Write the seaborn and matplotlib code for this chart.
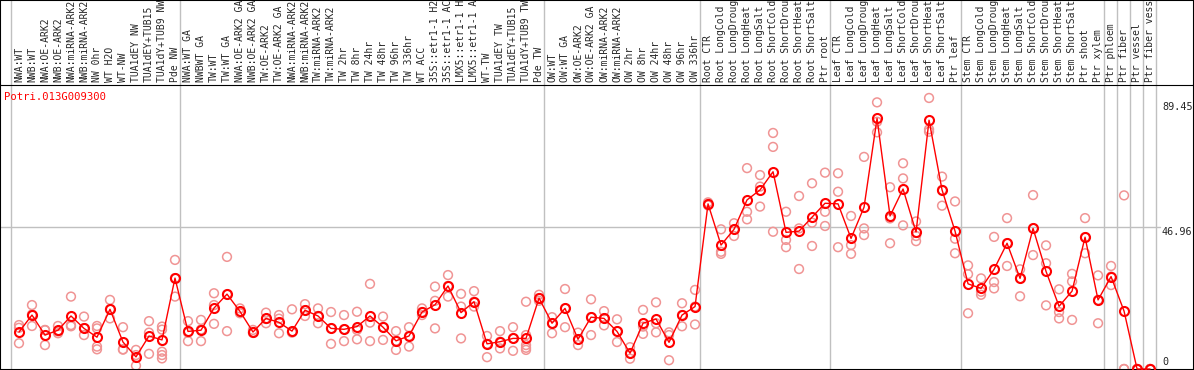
import numpy as np
import pandas as pd
import matplotlib
matplotlib.use('Agg')
import matplotlib.pyplot as plt
import seaborn as sns

gene = 'Potri.013G009300'

# sample names as printed (the header only has room for 14 characters)
labels = ['NWA:WT', 'NWB:WT', 'NWA:OE-ARK2', 'NWB:OE-ARK2', 'NWA:miRNA-ARK2', 'NWB:miRNA-ARK2',
          'NW 0hr', 'WT H2O', 'WT-NW', 'TUA1dEY NW', 'TUA1dEY+TUB15', 'TUA1dY+TUB9 NW', 'Pde NW',
          'NWA:WT GA', 'NWBWT GA', 'TW:WT', 'TW:WT GA', 'NWA:OE-ARK2 GA', 'NWB:OE-ARK2 GA',
          'TW:OE-ARK2', 'TW:OE-ARK2 GA', 'NWA:miRNA-ARK2', 'NWB:miRNA-ARK2', 'TW:miRNA-ARK2',
          'TW:miRNA-ARK2', 'TW 2hr', 'TW 8hr', 'TW 24hr', 'TW 48hr', 'TW 96hr', 'TW 336hr', 'WT ACC',
          '35S::etr1-1 H2', '35S::etr1-1 AC', 'LMX5::etr1-1 H', 'LMX5::etr1-1 A', 'WT-TW',
          'TUA1dEY TW', 'TUA1dEY+TUB15', 'TUA1dY+TUB9 TW', 'Pde TW',
          'OW:WT', 'OW:WT GA', 'OW:OE-ARK2', 'OW:OE-ARK2 GA', 'OW:miRNA-ARK2', 'OW:miRNA-ARK2',
          'OW 2hr', 'OW 8hr', 'OW 24hr', 'OW 48hr', 'OW 96hr', 'OW 336hr',
          'Root CTR', 'Root LongCold', 'Root LongDroug', 'Root LongHeat', 'Root LongSalt',
          'Root ShortCold', 'Root ShortDrou', 'Root ShortHeat', 'Root ShortSalt', 'Ptr root',
          'Leaf CTR', 'Leaf LongCold', 'Leaf LongDroug', 'Leaf LongHeat', 'Leaf LongSalt',
          'Leaf ShortCold', 'Leaf ShortDrou', 'Leaf ShortHeat', 'Leaf ShortSalt', 'Ptr leaf',
          'Stem CTR', 'Stem LongCold', 'Stem LongDroug', 'Stem LongHeat', 'Stem LongSalt',
          'Stem ShortCold', 'Stem ShortDrou', 'Stem ShortHeat', 'Stem ShortSalt', 'Ptr shoot',
          'Ptr xylem', 'Ptr phloem', 'Ptr fiber', 'Ptr vessel', 'Ptr fiber vess']

# number of samples in each block separated by a vertical line
group_sizes = [13, 28, 12, 10, 10, 11, 1, 1, 1, 1]

means = [12.2, 17.8, 11.2, 12.8, 17.5, 13.4, 10.5, 19.7, 8.9, 4.0, 10.9, 9.6, 30.0,
         12.4, 12.8, 20.1, 24.7, 19.0, 12.2, 16.7, 15.4, 12.5, 19.4, 17.5, 13.4, 13.1, 14.0,
         17.5, 13.8, 9.3, 10.9, 18.8, 21.2, 27.4, 18.6, 22.2, 8.3, 9.0, 10.1, 10.1, 23.4,
         15.1, 20.0, 9.8, 17.1, 16.7, 12.4, 5.2, 15.1, 16.5, 8.8, 17.8, 20.6,
         54.5, 40.9, 46.1, 55.8, 59.1, 65.1, 45.1, 45.5, 50.1, 54.7,
         54.5, 43.1, 53.4, 82.7, 50.5, 59.4, 45.2, 82.1, 59.1, 45.5,
         28.1, 26.6, 32.9, 41.5, 29.9, 46.4, 32.2, 20.7, 25.7, 43.5,
         22.8, 30.5, 19.1, 0.0, 0.0]

replicates = [[14.5, 13.6, 8.5], [21.1, 18.0, 14.2], [12.9, 12.8, 7.9], [14.2, 11.8, 12.4],
              [23.9, 14.5, 14.1], [17.3, 13.5, 11.2], [14.2, 13.4, 7.4, 6.5], [22.8, 19.7, 16.7],
              [13.8, 6.5, 6.4], [6.3, 4.6, 1.1], [15.8, 12.0, 5.0], [14.0, 13.0, 5.7, 4.6, 3.5],
              [36.0, 30.0, 23.9],
              [15.8, 12.0, 9.2], [16.2, 13.0, 9.2], [25.0, 21.1, 14.9], [37.0, 24.6, 12.5],
              [20.0, 18.7, 18.4], [12.9, 12.2, 11.9], [18.6, 16.5, 15.1], [17.8, 16.6, 11.8],
              [19.7, 12.3, 12.0], [21.4, 19.4, 17.5], [20.0, 17.5, 15.1], [18.8, 13.4, 8.3],
              [17.8, 13.1, 9.2], [18.9, 12.9, 9.8], [28.1, 15.3, 9.2], [17.3, 13.8, 9.6],
              [12.5, 9.3, 6.3], [13.8, 10.9, 7.4], [20.0, 18.8, 17.8], [27.2, 22.5, 13.4],
              [31.0, 27.4, 23.9], [24.8, 20.6, 10.1], [25.7, 22.2, 20.6], [10.9, 8.3, 3.9],
              [12.5, 9.0, 6.8], [13.8, 10.1, 6.0], [22.2, 11.2, 7.9, 7.0, 6.3], [24.5, 23.4, 22.5],
              [17.1, 15.1, 11.8], [26.4, 20.0, 13.8], [12.0, 9.8, 7.9], [23.0, 17.1, 11.2],
              [19.1, 16.7, 14.4], [16.4, 12.4, 8.9], [7.2, 5.2, 3.4], [19.5, 14.0, 11.6],
              [22.0, 15.1, 12.1], [12.1, 11.2, 2.9], [21.7, 17.8, 14.1], [26.1, 20.6, 14.7],
              [55.0, 54.5, 54.0], [46.1, 38.7, 38.0], [48.1, 46.1, 43.9], [66.3, 51.9, 49.4],
              [64.0, 60.2, 53.6], [77.9, 73.3, 45.3], [51.9, 42.6, 40.2], [57.1, 46.4, 33.0],
              [61.3, 48.3, 40.6], [64.8, 51.9, 47.2],
              [64.6, 58.5, 40.2], [50.5, 40.9, 38.0], [70.0, 46.4, 44.2], [88.0, 81.6, 78.1],
              [60.0, 49.7, 41.5], [67.9, 62.9, 47.4], [48.7, 43.9, 42.2], [89.45, 79.1, 78.3],
              [63.5, 59.1, 53.9], [55.3, 43.0, 38.2],
              [34.2, 31.3, 18.4], [29.9, 25.5, 24.5], [43.6, 28.7, 26.6], [49.8, 41.5, 34.0],
              [32.9, 29.9, 24.0], [57.4, 46.4, 37.6], [40.8, 34.9, 21.0], [26.3, 18.8, 16.7],
              [31.4, 28.9, 16.2], [49.8, 43.5, 38.2],
              [30.9, 22.8, 15.1], [34.0, 30.5, 27.7], [57.3, 0.0, 0.0], [0.0, 0.0, 0.0],
              [0.0, 0.0, 0.0]]

ytick_vals = [0, 46.96, 89.45]

pos = np.arange(len(labels))
df_mean = pd.DataFrame({'pos': pos, 'mean': means})
df_rep = pd.DataFrame([(i, v) for i, reps in enumerate(replicates) for v in reps],
                      columns=['pos', 'value'])

sns.set_style('white')
plt.rcParams['font.family'] = ['DejaVu Sans Mono']

W, H, head = 1194, 370, 85
fig = plt.figure(figsize=(W / 100, H / 100), dpi=100)
ax_h = fig.add_axes([0, (H - head) / H, 1, head / H])
ax = fig.add_axes([0, 0, 1, (H - head) / H], sharex=ax_h)

# group separators
bounds = np.concatenate([[0], np.cumsum(group_sizes)]) - 0.58
for b in bounds:
    ax.axvline(b, color='#c0c0c0', lw=1, zorder=0)
    ax_h.axvline(b, color='#c0c0c0', lw=1, zorder=0)
ax.axhline(ytick_vals[1], xmax=1160 / W, color='#c0c0c0', lw=1, zorder=0)

sns.scatterplot(data=df_rep, x='pos', y='value', ax=ax, marker='o', s=40,
                facecolors='none', edgecolor='#f09494', linewidth=1.1, zorder=2)
sns.lineplot(data=df_mean, x='pos', y='mean', ax=ax, color='red', lw=1, sort=False,
             estimator=None, marker='o', markersize=6.5, markerfacecolor='none',
             markeredgecolor='red', markeredgewidth=1.5, zorder=3)

ax.set_xlim(-1.46, 90.38)
ax.set_ylim(-1 / 3.03, (H - 1 - head) / 3.03)
ax.set_xticks(pos)
ax.set_xticklabels(labels)
ax.tick_params(axis='x', length=0, pad=2, labeltop=True, labelbottom=False,
               labelrotation=90, labelsize=7.0)
ax.set_yticks([])
ax.set_xlabel('')
ax.set_ylabel('')
ax_h.tick_params(axis='both', length=0, labelbottom=False, labelleft=False)
ax_h.set_yticks([])

for a in (ax, ax_h):
    for s in a.spines.values():
        s.set_color('black')
        s.set_linewidth(1.5)
ax.spines['top'].set_linewidth(0.8)
ax_h.spines['bottom'].set_visible(False)

ax.text(0.003, 0.958, gene, transform=ax.transAxes, color='red', fontsize=7.6,
        va='center', ha='left')
offsets = [5, -3.6, -6.5]
for v, off in zip(ytick_vals, offsets):
    ax.annotate(f'{v:g}', xy=(1162 / W, v), xycoords=ax.get_yaxis_transform(),
                xytext=(0, off), textcoords='offset points', fontsize=7.3,
                va='center', ha='left')

fig.savefig('out.png', dpi=100)
